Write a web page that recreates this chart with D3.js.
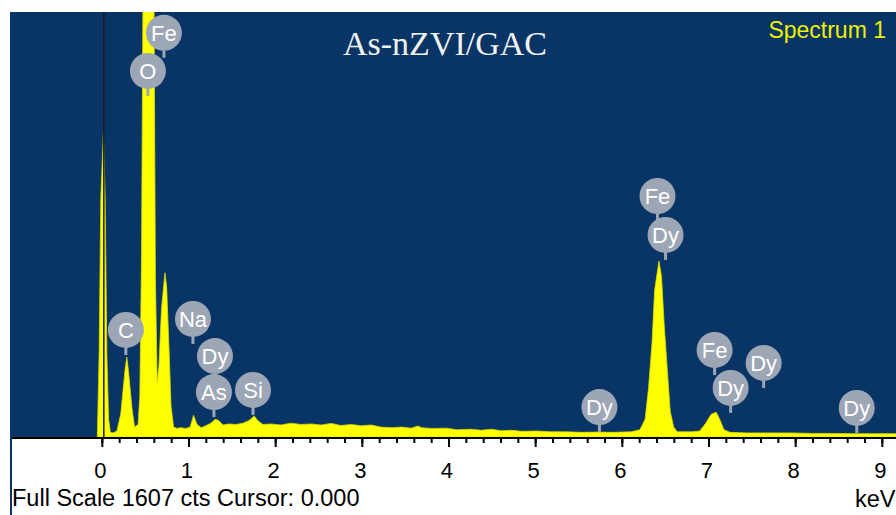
<!DOCTYPE html>
<html>
<head>
<meta charset="utf-8">
<script src="https://cdn.jsdelivr.net/npm/d3@7.9.0/dist/d3.min.js"></script>
<style>
  html, body { margin: 0; padding: 0; background: #fff; }
  svg { display: block; }
</style>
</head>
<body>
<div id="chart"></div>
<script>
// spectrum: energy (keV) and counts
const energy = [
  -0.04, -0.02, 0.0, 0.03, 0.05, 0.07, 0.09, 0.11, 0.14, 0.185, 0.23,
  0.28, 0.30, 0.32, 0.36, 0.39, 0.43, 0.45, 0.47, 0.49, 0.53,
  0.57, 0.61, 0.63, 0.65, 0.67, 0.70, 0.74, 0.76, 0.79, 0.81,
  0.84, 0.88, 0.92, 0.98, 1.03, 1.07, 1.11, 1.16, 1.21, 1.27,
  1.32, 1.36, 1.41, 1.48, 1.56, 1.64, 1.71, 1.77, 1.81, 1.87,
  1.96, 2.08, 2.19, 2.31, 2.43, 2.54, 2.66, 2.77, 2.89, 3.00,
  3.12, 3.23, 3.35, 3.47, 3.58, 3.66, 3.70, 3.81, 3.99, 4.10,
  4.27, 4.39, 4.51, 4.62, 4.74, 4.85, 5.03, 5.20, 5.37, 5.55,
  5.72, 5.89, 6.12, 6.22, 6.28, 6.32, 6.36, 6.39, 6.44, 6.47,
  6.50, 6.54, 6.57, 6.61, 6.65, 6.82, 6.91, 6.98, 7.04, 7.10,
  7.14, 7.19, 7.26, 7.45, 7.97, 8.20, 8.43, 8.66, 9.01, 9.20
];
const counts = [
  0, 300, 900, 1150, 900, 300, 60, 10, 8, 15, 80,
  250, 296, 240, 100, 30, 40, 150, 700, 1900, 2400,
  2400, 1900, 600, 200, 260, 480, 616, 560, 300, 110,
  30, 25, 28, 25, 30, 75, 40, 28, 35, 45,
  60, 55, 38, 42, 40, 45, 55, 72, 55, 40,
  42, 38, 45, 40, 42, 38, 44, 36, 40, 35,
  38, 30, 28, 30, 26, 34, 28, 25, 26, 20,
  22, 18, 22, 16, 18, 14, 15, 12, 12, 10,
  11, 10, 12, 20, 60, 180, 350, 550, 661, 600,
  420, 230, 90, 30, 12, 12, 15, 45, 78, 87,
  60, 20, 10, 8, 8, 6, 6, 5, 5, 5
];

// element markers: name, energy, count level where the stem ends
const peakNames = ['O', 'Fe', 'C', 'Na', 'Dy', 'As', 'Si', 'Dy', 'Fe', 'Dy', 'Fe', 'Dy', 'Dy', 'Dy'];
const peakKeV = [0.543, 0.728, 0.289, 1.063, 1.317, 1.305, 1.756, 5.753, 6.423, 6.516, 7.082, 7.267, 7.648, 8.722];
const peakTip = [1288, 1433, 304, 346, 205, 68, 76, 11, 813, 665, 228, 84, 179, 8];

const majorTicks = [0, 1, 2, 3, 4, 5, 6, 7, 8, 9];
const minorTicks = d3.range(0, 9.2, 0.2);
const fullScale = 1607;
const cursor = 0.0;

const title = 'As-nZVI/GAC';
const spectrumName = 'Spectrum 1';

function renderSpectrum() {
  const width = 896;
  const height = 515;
  const panel = { left: 10, top: 12, right: 896, bottom: 437 };

  const svg = d3.select('#chart')
    .append('svg')
    .attr('width', width)
    .attr('height', height);

  const x = d3.scaleLinear()
    .domain([-1.048, 9.175])
    .range([panel.left, panel.right]);

  const y = d3.scaleLinear()
    .domain([0, fullScale])
    .range([435, panel.top]);

  svg.append('defs').append('clipPath')
    .attr('id', 'clip')
    .append('rect')
    .attr('x', panel.left)
    .attr('y', panel.top)
    .attr('width', panel.right - panel.left)
    .attr('height', panel.bottom - panel.top);

  // navy plot panel
  svg.append('rect')
    .attr('x', panel.left)
    .attr('y', panel.top)
    .attr('width', panel.right - panel.left)
    .attr('height', panel.bottom - panel.top)
    .attr('fill', '#083466');

  // left border strip runs down past the axis
  svg.append('rect')
    .attr('x', panel.left)
    .attr('y', panel.top)
    .attr('width', 2)
    .attr('height', height - panel.top)
    .attr('fill', '#083466');

  const spectrum = energy.map((e, i) => [e, counts[i]]);

  const area = d3.area()
    .x(d => x(d[0]))
    .y0(panel.bottom)
    .y1(d => y(d[1]));

  svg.append('path')
    .datum(spectrum)
    .attr('clip-path', 'url(#clip)')
    .attr('d', area)
    .attr('fill', '#ffff00')
    .attr('stroke', '#d8d800')
    .attr('stroke-width', 0.8);

  // cursor line
  svg.append('line')
    .attr('x1', x(cursor) + 3)
    .attr('x2', x(cursor) + 3)
    .attr('y1', panel.top)
    .attr('y2', panel.bottom)
    .attr('stroke', '#1a1a1a')
    .attr('stroke-width', 1.5);

  // element markers
  const r = 18;
  const markers = svg.append('g').attr('class', 'markers');
  peakNames.forEach((name, i) => {
    const cx = x(peakKeV[i]);
    const tip = y(peakTip[i]);
    const cy = tip - 25;
    const g = markers.append('g');
    g.append('rect')
      .attr('x', cx - 1.5)
      .attr('y', cy)
      .attr('width', 3)
      .attr('height', tip - cy)
      .attr('fill', '#9ca6b5');
    g.append('circle')
      .attr('cx', cx)
      .attr('cy', cy)
      .attr('r', r)
      .attr('fill', '#9ca6b5');
    g.append('text')
      .attr('x', cx)
      .attr('y', cy + 8)
      .attr('text-anchor', 'middle')
      .attr('font-family', 'Liberation Sans, Arial, sans-serif')
      .attr('font-size', 22)
      .attr('fill', '#ffffff')
      .text(name);
  });

  svg.append('text')
    .attr('x', 445)
    .attr('y', 55)
    .attr('text-anchor', 'middle')
    .attr('font-family', 'Liberation Serif, Times New Roman, serif')
    .attr('font-size', 34)
    .attr('fill', '#f2f2f2')
    .text(title);

  svg.append('text')
    .attr('x', 886)
    .attr('y', 38)
    .attr('text-anchor', 'end')
    .attr('font-family', 'Liberation Sans, Arial, sans-serif')
    .attr('font-size', 23)
    .attr('fill', '#f0f000')
    .text(spectrumName);

  // energy axis
  svg.append('line')
    .attr('x1', panel.left + 2)
    .attr('x2', panel.right)
    .attr('y1', 438)
    .attr('y2', 438)
    .attr('stroke', '#000')
    .attr('stroke-width', 2);

  svg.append('g')
    .attr('transform', 'translate(1, 438)')
    .call(d3.axisBottom(x).tickValues(minorTicks).tickFormat('').tickSize(5));

  const majorAxis = svg.append('g')
    .attr('transform', 'translate(1, 438)')
    .call(d3.axisBottom(x).tickValues(majorTicks).tickFormat(d3.format('d')).tickSize(9).tickPadding(15));

  svg.selectAll('.domain').remove();
  svg.selectAll('.tick line').attr('stroke', '#000').attr('stroke-width', 2);
  majorAxis.selectAll('.tick text')
    .attr('x', -2)
    .attr('font-family', 'Liberation Sans, Arial, sans-serif')
    .attr('font-size', 22)
    .attr('fill', '#000');

  svg.append('text')
    .attr('x', 12)
    .attr('y', 506)
    .attr('font-family', 'Liberation Sans, Arial, sans-serif')
    .attr('font-size', 23.5)
    .attr('fill', '#000')
    .text(`Full Scale ${fullScale} cts Cursor: ${cursor.toFixed(3)}`);

  svg.append('text')
    .attr('x', 855)
    .attr('y', 507)
    .attr('font-family', 'Liberation Sans, Arial, sans-serif')
    .attr('font-size', 23.5)
    .attr('fill', '#000')
    .text('keV');
}

renderSpectrum();
</script>
</body>
</html>
